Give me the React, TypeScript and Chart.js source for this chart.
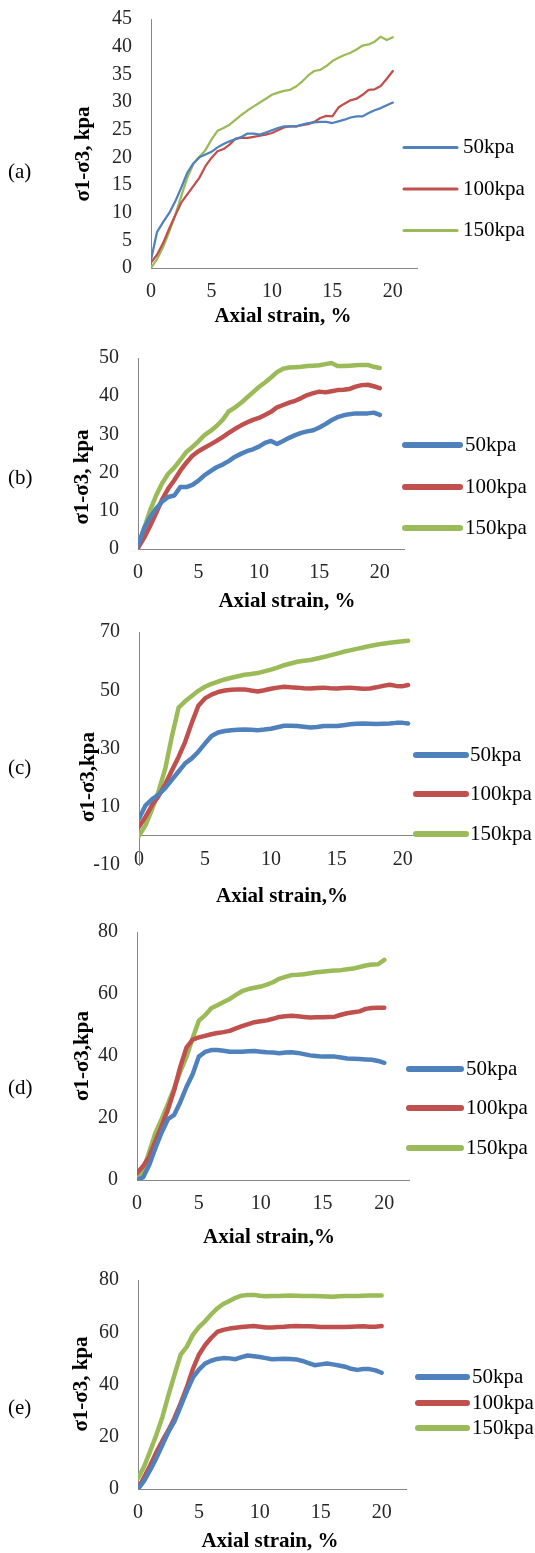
import React, { useEffect, useRef } from "react";
import { Chart, registerables } from "chart.js";

Chart.register(...registerables);

// ---------- data ----------
const strain = [0, 0.5, 1, 1.5, 2, 2.5, 3, 3.5, 4, 4.5, 5, 5.5, 6, 6.5, 7, 7.5, 8, 8.5, 9, 9.5, 10, 10.5, 11, 11.5, 12, 12.5, 13, 13.5, 14, 14.5, 15, 15.5, 16, 16.5, 17, 17.5, 18, 18.5, 19, 19.5, 20];
const strainC = [0, 0.5, 1, 1.5, 2, 2.5, 3, 3.5, 4, 4.5, 5, 5.5, 6, 6.5, 7, 7.5, 8, 8.5, 9, 9.5, 10, 10.5, 11, 11.5, 12, 12.5, 13, 13.5, 14, 14.5, 15, 15.5, 16, 16.5, 17, 17.5, 18, 18.5, 19, 19.5, 20, 20.4];

const legendLabels = ["50kpa", "100kpa", "150kpa"];

const a50 = [1.5, 6.5, 8.3, 9.9, 12.0, 14.5, 17.2, 18.9, 20.0, 20.5, 21.0, 21.8, 22.4, 22.9, 23.3, 23.7, 24.3, 24.3, 24.1, 24.5, 24.9, 25.3, 25.6, 25.6, 25.6, 25.9, 26.2, 26.3, 26.4, 26.4, 26.2, 26.5, 26.8, 27.2, 27.4, 27.4, 28.0, 28.5, 28.9, 29.4, 29.9];
const a100 = [1.0, 2.4, 4.5, 7.1, 9.5, 11.8, 13.3, 14.8, 16.3, 18.4, 19.9, 21.1, 21.5, 22.3, 23.4, 23.5, 23.5, 23.7, 23.9, 24.1, 24.4, 24.9, 25.4, 25.6, 25.6, 25.8, 26.0, 26.4, 27.1, 27.5, 27.4, 29.0, 29.7, 30.3, 30.6, 31.3, 32.2, 32.3, 32.9, 34.2, 35.6];
const a150 = [0, 1.6, 3.8, 6.5, 9.5, 13.0, 16.3, 18.8, 20.1, 21.3, 23.2, 24.8, 25.3, 25.9, 26.8, 27.7, 28.5, 29.2, 29.9, 30.6, 31.3, 31.7, 32.0, 32.2, 32.8, 33.7, 34.8, 35.6, 35.8, 36.5, 37.4, 38.0, 38.5, 38.9, 39.5, 40.2, 40.4, 40.9, 41.8, 41.2, 41.7];

const b50 = [0.9, 5.4, 8.3, 10.6, 12.4, 13.6, 14.0, 16.2, 16.2, 16.8, 17.9, 19.3, 20.4, 21.4, 22.1, 23.0, 24.1, 24.9, 25.6, 26.1, 26.8, 27.8, 28.3, 27.5, 28.3, 29.1, 29.8, 30.4, 30.8, 31.1, 31.8, 32.7, 33.7, 34.5, 35.0, 35.3, 35.5, 35.5, 35.5, 35.7, 35.1];
const b100 = [0.3, 2.9, 6.0, 9.4, 13.0, 15.8, 18.0, 20.5, 22.6, 24.4, 25.6, 26.5, 27.4, 28.3, 29.3, 30.4, 31.4, 32.3, 33.1, 33.8, 34.3, 35.1, 35.9, 37.1, 37.7, 38.3, 38.8, 39.5, 40.3, 40.8, 41.2, 41.0, 41.3, 41.6, 41.7, 41.9, 42.5, 42.9, 43.0, 42.6, 42.1];
const b150 = [0.5, 5.3, 10.1, 14.0, 17.2, 19.7, 21.3, 23.3, 25.4, 26.7, 28.2, 29.8, 30.9, 32.2, 33.8, 36.0, 37.0, 38.2, 39.6, 41.0, 42.4, 43.6, 44.9, 46.3, 47.2, 47.5, 47.6, 47.7, 47.9, 48.0, 48.1, 48.4, 48.7, 47.9, 47.9, 48.0, 48.1, 48.2, 48.2, 47.7, 47.4];

const c50 = [6.0, 10.5, 12.6, 14.2, 16.5, 19.3, 22.1, 24.9, 26.6, 28.9, 31.7, 34.3, 35.5, 36.0, 36.3, 36.4, 36.5, 36.4, 36.3, 36.5, 36.8, 37.3, 37.8, 37.8, 37.7, 37.5, 37.2, 37.4, 37.7, 37.7, 37.7, 38.0, 38.3, 38.5, 38.6, 38.5, 38.4, 38.5, 38.6, 38.8, 38.8, 38.6];
const c100 = [3.1, 6.6, 10.6, 13.8, 17.8, 22.5, 27.1, 32.3, 38.8, 44.7, 47.2, 48.5, 49.4, 49.9, 50.2, 50.3, 50.3, 49.9, 49.6, 50.0, 50.5, 50.9, 51.2, 51.0, 50.9, 50.7, 50.6, 50.8, 50.9, 50.7, 50.6, 50.8, 50.9, 50.7, 50.5, 50.6, 51.0, 51.5, 51.9, 51.5, 51.4, 51.8];
const c150 = [0, 3.7, 9.3, 15.5, 23.3, 34.3, 44.0, 46.2, 48.0, 49.8, 51.2, 52.2, 53.0, 53.7, 54.3, 54.8, 55.3, 55.6, 55.9, 56.5, 57.1, 57.8, 58.6, 59.2, 59.8, 60.1, 60.4, 60.9, 61.4, 62.0, 62.6, 63.2, 63.7, 64.2, 64.7, 65.2, 65.6, 66.0, 66.3, 66.6, 66.8, 67.0];

const d50 = [0, 0.9, 5.0, 10.4, 15.4, 19.6, 21.0, 25.1, 30.0, 34.1, 39.8, 41.3, 41.9, 41.9, 41.7, 41.4, 41.4, 41.4, 41.5, 41.6, 41.4, 41.2, 41.1, 40.9, 41.1, 41.2, 41.0, 40.6, 40.2, 40.0, 39.8, 39.8, 39.8, 39.5, 39.2, 39.1, 39.0, 38.9, 38.8, 38.4, 37.8];
const d100 = [2.2, 4.5, 7.6, 12.6, 17.5, 22.7, 28.9, 36.5, 42.7, 45.3, 46.0, 46.5, 47.0, 47.4, 47.7, 48.1, 48.9, 49.6, 50.3, 50.9, 51.2, 51.5, 52.0, 52.6, 52.8, 53.0, 52.8, 52.6, 52.4, 52.5, 52.5, 52.6, 52.7, 53.3, 53.8, 54.1, 54.4, 55.2, 55.5, 55.6, 55.6];
const d150 = [0, 3.1, 9.2, 15.3, 19.7, 24.6, 29.5, 35.0, 39.7, 45.7, 51.4, 53.1, 55.4, 56.4, 57.4, 58.4, 59.7, 60.9, 61.6, 62.0, 62.4, 63.0, 63.8, 64.9, 65.5, 66.1, 66.2, 66.4, 66.7, 67.0, 67.2, 67.4, 67.6, 67.7, 68.0, 68.2, 68.7, 69.2, 69.5, 69.6, 71.0];

const e50 = [0, 3.1, 7.3, 11.8, 16.8, 21.9, 26.0, 31.6, 37.4, 42.6, 45.7, 48.0, 49.1, 49.8, 50.1, 50.0, 49.7, 50.5, 51.1, 50.8, 50.5, 50.1, 49.7, 49.8, 49.9, 49.8, 49.6, 49.0, 48.2, 47.4, 47.7, 48.0, 47.7, 47.3, 46.8, 46.0, 45.6, 45.9, 45.9, 45.4, 44.5];
const e100 = [0, 4.5, 9.0, 14.0, 18.4, 22.5, 27.2, 32.8, 38.8, 45.9, 51.4, 55.0, 57.8, 60.1, 60.9, 61.4, 61.7, 62.0, 62.2, 62.4, 62.1, 61.8, 61.8, 62.0, 62.1, 62.3, 62.4, 62.3, 62.3, 62.2, 62.0, 62.0, 62.0, 62.0, 62.0, 62.1, 62.2, 62.3, 62.1, 62.1, 62.4];
const e150 = [4.1, 8.6, 14.5, 20.7, 27.5, 35.9, 43.8, 51.4, 54.4, 59.0, 62.0, 64.2, 66.8, 69.1, 70.8, 72.0, 73.2, 74.0, 74.3, 74.3, 74.0, 73.8, 73.9, 73.9, 74.0, 74.1, 74.0, 73.9, 73.9, 73.9, 73.8, 73.7, 73.6, 73.8, 73.9, 73.9, 73.9, 74.0, 74.1, 74.1, 74.1];

// tick labels
const xTicks = [0, 5, 10, 15, 20];
const yTicksA = [0, 5, 10, 15, 20, 25, 30, 35, 40, 45];
const yTicksB = [0, 10, 20, 30, 40, 50];
const yTicksC = [-10, 10, 30, 50, 70];
const yTicksDE = [0, 20, 40, 60, 80];

// ---------- styles / layout ----------
const COLORS = ["#4F81BD", "#C0504D", "#9BBB59"];
const SERIF = "'Liberation Serif', 'Times New Roman', serif";
const AXIS_COLOR = "#868686";

type PanelCfg = {
  label: string;
  top: number;
  height: number;
  area: { l: number; t: number; r: number; b: number };
  x: number[];
  series: number[][];
  xMax: number;
  yMin: number;
  yMax: number;
  yTicks: number[];
  lw: number;
  legendLW: number;
  legend: { x1: number; x2: number; tx: number; ys: number[] };
  labelY: number;
  xTitle: string;
  xTitlePos: [number, number];
  yTitle: string;
  yTitlePos: [number, number];
};

const panels: PanelCfg[] = [
  {
    label: "(a)", top: 0, height: 335,
    area: { l: 151, t: 19, r: 417, b: 268 },
    x: strain, series: [a50, a100, a150], xMax: 22, yMin: 0, yMax: 45, yTicks: yTicksA,
    lw: 2.25, legendLW: 3,
    legend: { x1: 404, x2: 457, tx: 463, ys: [147.5, 189, 230.5] },
    labelY: 172,
    xTitle: "Axial strain, %", xTitlePos: [283, 317],
    yTitle: "σ1-σ3, kpa", yTitlePos: [84, 154],
  },
  {
    label: "(b)", top: 335, height: 280,
    area: { l: 138, t: 358, r: 404, b: 549 },
    x: strain, series: [b50, b100, b150], xMax: 22, yMin: 0, yMax: 50, yTicks: yTicksB,
    lw: 4.5, legendLW: 6,
    legend: { x1: 405, x2: 460, tx: 465, ys: [445, 487, 528] },
    labelY: 478,
    xTitle: "Axial strain, %", xTitlePos: [287, 602],
    yTitle: "σ1-σ3, kpa", yTitlePos: [83, 477],
  },
  {
    label: "(c)", top: 615, height: 290,
    area: { l: 139, t: 632, r: 416, b: 865 },
    x: strainC, series: [c50, c100, c150], xMax: 21, yMin: -10, yMax: 70, yTicks: yTicksC,
    lw: 4.5, legendLW: 6,
    legend: { x1: 416, x2: 466, tx: 470, ys: [755, 794, 834] },
    labelY: 768,
    xTitle: "Axial strain,%", xTitlePos: [282, 897],
    yTitle: "σ1-σ3,kpa", yTitlePos: [89, 777],
  },
  {
    label: "(d)", top: 905, height: 347,
    area: { l: 137, t: 932, r: 409, b: 1180 },
    x: strain, series: [d50, d100, d150], xMax: 22, yMin: 0, yMax: 80, yTicks: yTicksDE,
    lw: 4.5, legendLW: 6,
    legend: { x1: 409, x2: 461, tx: 466, ys: [1069, 1108, 1148] },
    labelY: 1088,
    xTitle: "Axial strain,%", xTitlePos: [269, 1238],
    yTitle: "σ1-σ3,kpa", yTitlePos: [83, 1056],
  },
  {
    label: "(e)", top: 1252, height: 301,
    area: { l: 138, t: 1280, r: 406, b: 1489 },
    x: strain, series: [e50, e100, e150], xMax: 22, yMin: 0, yMax: 80, yTicks: yTicksDE,
    lw: 4.5, legendLW: 6,
    legend: { x1: 418, x2: 467, tx: 472, ys: [1377, 1403, 1428] },
    labelY: 1408,
    xTitle: "Axial strain, %", xTitlePos: [270, 1542],
    yTitle: "σ1-σ3, kpa", yTitlePos: [82, 1384],
  },
];

const X_AXIS_H = 40;

function Panel({ cfg }: { cfg: PanelCfg }) {
  const ref = useRef<HTMLCanvasElement>(null);

  useEffect(() => {
    const canvas = ref.current;
    if (!canvas) return;
    const T = cfg.top;
    const H = cfg.height;
    const a = cfg.area;
    const crossesAtZero = cfg.yMin < 0;

    const textPlugin = {
      id: "panelText",
      afterDraw(chart: any) {
        const ctx = chart.ctx as CanvasRenderingContext2D;
        ctx.save();
        // legend
        cfg.series.forEach((_, i) => {
          const y = cfg.legend.ys[i] - T;
          ctx.strokeStyle = COLORS[i];
          ctx.lineWidth = cfg.legendLW;
          ctx.lineCap = "round";
          ctx.beginPath();
          ctx.moveTo(cfg.legend.x1, y);
          ctx.lineTo(cfg.legend.x2, y);
          ctx.stroke();
          ctx.fillStyle = "#000";
          ctx.font = `21px ${SERIF}`;
          ctx.textAlign = "left";
          ctx.textBaseline = "middle";
          ctx.fillText(legendLabels[i], cfg.legend.tx, y);
        });
        // panel label
        ctx.fillStyle = "#000";
        ctx.font = `21px ${SERIF}`;
        ctx.textAlign = "left";
        ctx.textBaseline = "middle";
        ctx.fillText(cfg.label, 8, cfg.labelY - T);
        // x title
        ctx.font = `bold 21px ${SERIF}`;
        ctx.textAlign = "center";
        ctx.fillText(cfg.xTitle, cfg.xTitlePos[0], cfg.xTitlePos[1] - T);
        // y title
        ctx.translate(cfg.yTitlePos[0], cfg.yTitlePos[1] - T);
        ctx.rotate(-Math.PI / 2);
        ctx.font = `bold 21px ${SERIF}`;
        ctx.fillText(cfg.yTitle, 0, 0);
        ctx.restore();
      },
    };

    const chart = new Chart(canvas, {
      type: "line",
      data: {
        datasets: cfg.series.map((vals, i) => ({
          label: legendLabels[i],
          data: cfg.x.map((x, j) => ({ x, y: vals[j] })),
          borderColor: COLORS[i],
          backgroundColor: COLORS[i],
          borderWidth: cfg.lw,
          pointRadius: 0,
          pointHoverRadius: 0,
          tension: 0,
          fill: false,
          borderJoinStyle: "round",
          borderCapStyle: "round",
        })),
      },
      options: {
        responsive: false,
        animation: false,
        devicePixelRatio: 1,
        events: [],
        layout: {
          padding: {
            left: 0,
            top: a.t - T,
            right: 535 - a.r,
            bottom: crossesAtZero ? H - (a.b - T) : H - (a.b - T) - X_AXIS_H,
          },
        },
        plugins: {
          legend: { display: false },
          tooltip: { enabled: false },
          title: { display: false },
        },
        scales: {
          x: {
            type: "linear",
            min: 0,
            max: cfg.xMax,
            position: crossesAtZero ? { y: 0 } : "bottom",
            afterFit: (s: any) => {
              s.height = X_AXIS_H;
              s.paddingLeft = 0;
              s.paddingRight = 0;
            },
            afterBuildTicks: (s: any) => {
              s.ticks = xTicks.map((v) => ({ value: v }));
            },
            grid: { display: false, drawTicks: false },
            border: { display: true, color: AXIS_COLOR, width: 1 },
            ticks: {
              padding: 12,
              maxRotation: 0,
              autoSkip: false,
              color: "#262626",
              font: { family: SERIF, size: 20 },
            },
          },
          y: {
            type: "linear",
            min: cfg.yMin,
            max: cfg.yMax,
            afterFit: (s: any) => {
              s.width = a.l;
              s.paddingTop = 0;
              s.paddingBottom = 0;
            },
            afterBuildTicks: (s: any) => {
              s.ticks = cfg.yTicks.map((v) => ({ value: v }));
            },
            grid: { display: false, drawTicks: false },
            border: { display: true, color: AXIS_COLOR, width: 1 },
            ticks: {
              padding: 19,
              autoSkip: false,
              color: "#262626",
              font: { family: SERIF, size: 20 },
            },
          },
        },
      },
      plugins: [textPlugin],
    } as any);

    return () => chart.destroy();
  }, [cfg]);

  return (
    <canvas
      ref={ref}
      width={535}
      height={cfg.height}
      style={{ position: "absolute", left: 0, top: cfg.top, width: 535, height: cfg.height }}
    />
  );
}

export default function App() {
  return (
    <div style={{ position: "absolute", left: 0, top: 0, width: 535, height: 1553, background: "#fff", overflow: "hidden" }}>
      {panels.map((p) => (
        <Panel key={p.label} cfg={p} />
      ))}
    </div>
  );
}
